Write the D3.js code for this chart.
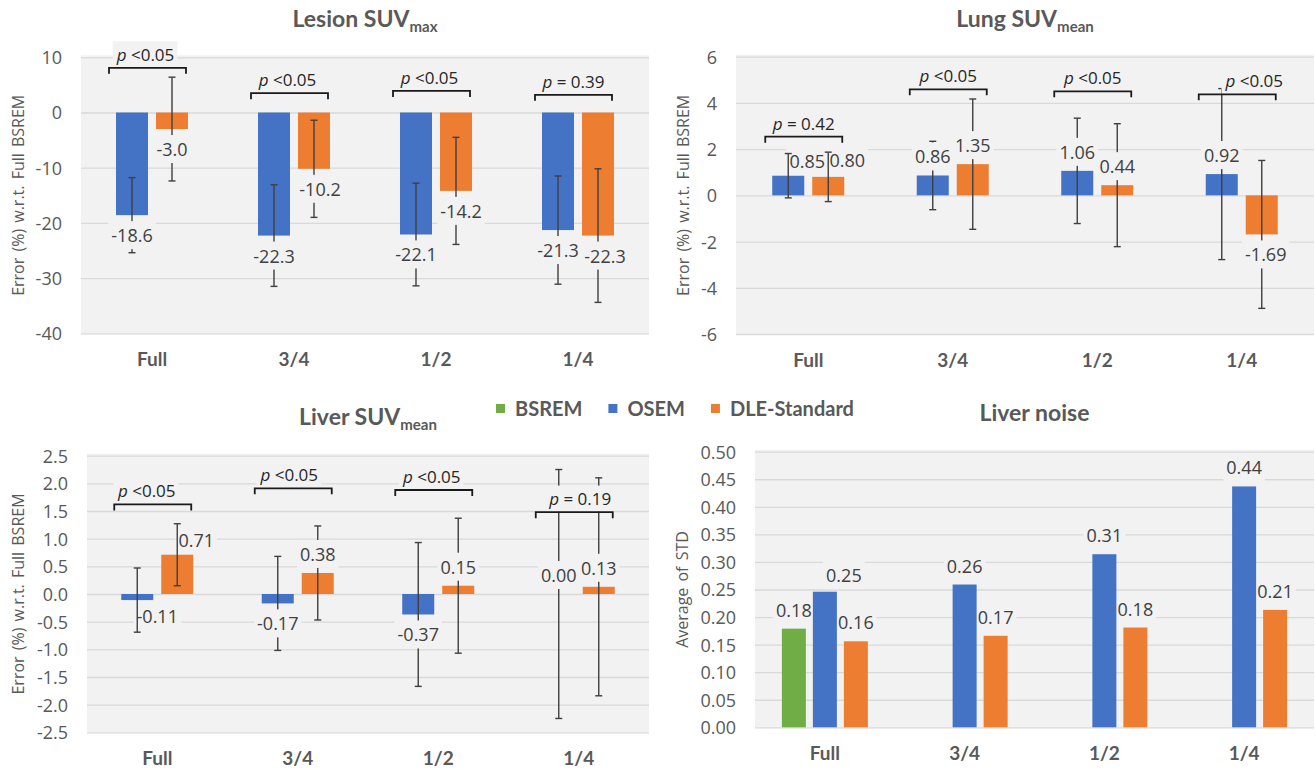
<!DOCTYPE html>
<html>
<head>
<meta charset="utf-8">
<script src="https://cdn.jsdelivr.net/npm/d3@7"></script>
<style>
  body { margin: 0; background: #fff; }
  svg { display: block; }
</style>
</head>
<body>
<svg id="chart" width="1316" height="770"></svg>
<script>
// categories + series
const categories = ["Full", "3/4", "1/2", "1/4"];
const seriesNames = ["BSREM", "OSEM", "DLE-Standard"];
const seriesColors = ["#70AD47", "#4472C4", "#ED7D31"];

// Lesion SUVmax
const lesionOsem = [-18.6, -22.3, -22.1, -21.3];
const lesionOsemErr = [6.8, 9.2, 9.3, 9.8];
const lesionDle = [-3.0, -10.2, -14.2, -22.3];
const lesionDleErr = [9.4, 8.8, 9.7, 12.1];
const lesionTicks = [-40, -30, -20, -10, 0, 10];
const lesionP = ["<0.05", "<0.05", "<0.05", "= 0.39"];
const lesionPLevel = [8.1, 3.5, 3.9, 3.2];

// Lung SUVmean
const lungOsem = [0.85, 0.86, 1.06, 0.92];
const lungOsemErr = [0.96, 1.48, 2.28, 3.7];
const lungDle = [0.80, 1.35, 0.44, -1.69];
const lungDleErr = [1.07, 2.82, 2.66, 3.2];
const lungTicks = [-6, -4, -2, 0, 2, 4, 6];
const lungP = ["= 0.42", "<0.05", "<0.05", "<0.05"];
const lungPLevel = [2.54, 4.59, 4.5, 4.37];

// Liver SUVmean
const liverOsem = [-0.11, -0.17, -0.37, 0.00];
const liverOsemErr = [0.58, 0.85, 1.3, 2.25];
const liverDle = [0.71, 0.38, 0.15, 0.13];
const liverDleErr = [0.56, 0.85, 1.22, 1.97];
const liverTicks = [-2.5, -2.0, -1.5, -1.0, -0.5, 0.0, 0.5, 1.0, 1.5, 2.0, 2.5];
const liverP = ["<0.05", "<0.05", "<0.05", "= 0.19"];
const liverPLevel = [1.62, 1.91, 1.88, 1.48];

// Liver noise (average of STD)
const noiseBsrem = [0.179, null, null, null];
const noiseOsem = [0.246, 0.259, 0.314, 0.437];
const noiseDle = [0.156, 0.166, 0.181, 0.213];
const noiseTicks = [0, 0.05, 0.10, 0.15, 0.20, 0.25, 0.30, 0.35, 0.40, 0.45, 0.50];

const FONT = "'Open Sans', sans-serif";
const TFONT = "Lato, sans-serif";
const svg = d3.select("#chart");

// label nudges: [series, category index, dx, dy, error bar drawn over label]
const panels = [
  {
    title: "Lesion SUV", sub: "max", titleY: 27,
    left: 81, right: 649, top: 57.3, bottom: 333.3,
    yTitle: "Error (%) w.r.t. Full BSREM", yTitleX: 18,
    ticks: lesionTicks, tickDigits: 0, labelDigits: 1,
    series: [
      { name: "OSEM", values: lesionOsem, err: lesionOsemErr },
      { name: "DLE-Standard", values: lesionDle, err: lesionDleErr }
    ],
    pText: lesionP, pLevel: lesionPLevel, pShift: [-2, -2, -2, 0],
    nudges: [["DLE-Standard", 1, 6, 0], ["DLE-Standard", 2, 5, 0], ["DLE-Standard", 3, 7, 0]]
  },
  {
    title: "Lung SUV", sub: "mean", titleY: 27,
    left: 736, right: 1314, top: 56.7, bottom: 334,
    yTitle: "Error (%) w.r.t. Full BSREM", yTitleX: 683,
    ticks: lungTicks, tickDigits: 0, labelDigits: 2,
    series: [
      { name: "OSEM", values: lungOsem, err: lungOsemErr },
      { name: "DLE-Standard", values: lungDle, err: lungDleErr }
    ],
    pText: lungP, pLevel: lungPLevel, pShift: [0, 0, 0, 17],
    nudges: [["OSEM", 0, 19, 4.5, true], ["DLE-Standard", 0, 19, 2, true], ["DLE-Standard", 3, 4, 0]]
  },
  {
    title: "Liver SUV", sub: "mean", titleY: 425,
    left: 87, right: 649, top: 455.7, bottom: 732.3,
    yTitle: "Error (%) w.r.t. Full BSREM", yTitleX: 18,
    ticks: liverTicks, tickDigits: 1, labelDigits: 2,
    series: [
      { name: "OSEM", values: liverOsem, err: liverOsemErr },
      { name: "DLE-Standard", values: liverDle, err: liverDleErr }
    ],
    pText: liverP, pLevel: liverPLevel, pShift: [-6, -4, -2, 6],
    nudges: [["OSEM", 0, 20, -4, true], ["DLE-Standard", 0, 19, 4, true]]
  },
  {
    title: "Liver noise", sub: "", titleY: 421,
    left: 755, right: 1314, top: 451.7, bottom: 727.3,
    yTitle: "Average of STD", yTitleX: 682,
    ticks: noiseTicks, tickDigits: 2, labelDigits: 2,
    series: [
      { name: "BSREM", values: noiseBsrem, err: null },
      { name: "OSEM", values: noiseOsem, err: null },
      { name: "DLE-Standard", values: noiseDle, err: null }
    ],
    pText: null,
    nudges: [["OSEM", 0, 19, 2.5]]
  }
];

// text with a filled box behind it (hides grid lines / error bars like Excel labels)
function boxed(parent, padX, boxH) {
  const g = parent.append("g");
  const rect = g.append("rect").attr("fill", "#f2f2f2");
  const text = g.append("text");
  return { g, rect, text, fit: function () {
    const b = text.node().getBBox();
    const cy = b.y + b.height / 2;
    rect.attr("x", b.x - padX).attr("width", b.width + 2 * padX)
      .attr("y", cy - boxH / 2).attr("height", boxH);
  } };
}

function drawPanel(cfg) {
  const g = svg.append("g");
  const x = d3.scaleBand().domain(categories).range([cfg.left, cfg.right]);
  const y = d3.scaleLinear()
    .domain([cfg.ticks[0], cfg.ticks[cfg.ticks.length - 1]])
    .range([cfg.bottom, cfg.top]);
  const n = cfg.series.length;
  const half = n === 2 ? 44 : 50;
  const sub = d3.scaleBand().domain(cfg.series.map(s => s.name))
    .range([-half, half]).padding(n === 2 ? 0.2 : 0.226);
  const cx = c => x(c) + x.bandwidth() / 2;
  const barX = (name, c) => cx(c) + sub(name) + sub.bandwidth() / 2;
  const hasErr = cfg.series.some(s => s.err);

  // plot background
  g.append("rect")
    .attr("x", cfg.left).attr("y", cfg.top - 2)
    .attr("width", cfg.right - cfg.left).attr("height", cfg.bottom - cfg.top + 2)
    .attr("fill", "#f2f2f2");

  // grid lines
  g.append("g")
    .attr("transform", `translate(${cfg.left},0)`)
    .call(d3.axisLeft(y).tickValues(cfg.ticks).tickSize(-(cfg.right - cfg.left)).tickFormat(""))
    .call(a => a.select(".domain").remove())
    .selectAll("line").attr("stroke", "#d9d9d9").attr("stroke-width", 1.3);

  // layers
  const barsLow = g.append("g");
  const labelsUnder = g.append("g");
  const barsHigh = g.append("g");
  const errLayer = g.append("g").attr("stroke", "#3f3f3f").attr("stroke-width", 1.4);
  const labelsOver = g.append("g");
  const pLayer = g.append("g");

  // y tick labels
  g.append("g")
    .attr("transform", `translate(${cfg.left},0)`)
    .call(d3.axisLeft(y).tickValues(cfg.ticks).tickSize(0).tickPadding(19)
      .tickFormat(d => d.toFixed(cfg.tickDigits)))
    .call(a => a.select(".domain").remove())
    .attr("font-family", FONT).attr("font-size", 18)
    .selectAll("text").attr("fill", "#595959").attr("dy", "0.36em");

  // category labels
  g.append("g")
    .attr("transform", `translate(0,${cfg.bottom})`)
    .call(d3.axisBottom(x).tickSize(0))
    .call(a => a.select(".domain").remove())
    .attr("font-family", TFONT).attr("font-size", 19).attr("font-weight", "bold")
    .selectAll("text").attr("fill", "#595959").attr("y", 33).attr("dy", 0);

  // title
  const t = g.append("text")
    .attr("x", (cfg.left + cfg.right) / 2).attr("y", cfg.titleY)
    .attr("text-anchor", "middle")
    .attr("font-family", TFONT).attr("font-weight", "bold").attr("font-size", 23)
    .attr("fill", "#595959");
  t.append("tspan").text(cfg.title);
  if (cfg.sub) t.append("tspan").attr("font-size", 15).attr("dy", 4.5).text(cfg.sub);

  // y axis title
  g.append("text")
    .attr("transform", `translate(${cfg.yTitleX},${(cfg.top + cfg.bottom) / 2}) rotate(-90)`)
    .attr("text-anchor", "middle").attr("dy", "0.36em")
    .attr("font-family", FONT).attr("font-size", 16).attr("word-spacing", 2)
    .attr("fill", "#595959")
    .text(cfg.yTitle);

  // bars
  const barLayer = hasErr ? barsLow : barsHigh;
  cfg.series.forEach(s => {
    const color = seriesColors[seriesNames.indexOf(s.name)];
    const rows = categories.map((c, i) => ({ c, v: s.values[i] })).filter(d => d.v !== null);
    barLayer.append("g").selectAll("rect").data(rows).join("rect")
      .attr("x", d => x(d.c) + x.bandwidth() / 2 + sub(s.name))
      .attr("width", sub.bandwidth())
      .attr("y", d => y(Math.max(0, d.v)))
      .attr("height", d => Math.abs(y(d.v) - y(0)))
      .attr("fill", color);
  });

  // error bars
  cfg.series.filter(s => s.err).forEach(s => {
    categories.forEach((c, i) => {
      const bx = barX(s.name, c);
      const lo = y(s.values[i] - s.err[i]), hi = y(s.values[i] + s.err[i]);
      errLayer.append("line").attr("x1", bx).attr("x2", bx).attr("y1", lo).attr("y2", hi);
      errLayer.append("line").attr("x1", bx - 3.5).attr("x2", bx + 3.5).attr("y1", lo).attr("y2", lo);
      errLayer.append("line").attr("x1", bx - 3.5).attr("x2", bx + 3.5).attr("y1", hi).attr("y2", hi);
    });
  });

  // value labels
  cfg.series.forEach(s => {
    categories.forEach((c, i) => {
      const v = s.values[i];
      if (v === null) return;
      const nd = cfg.nudges.find(k => k[0] === s.name && k[1] === i) || [0, 0, 0, 0];
      const ty = (v >= 0 ? y(v) - 18.5 : y(v) + 20.5) + nd[3];
      const layer = (!hasErr || nd[4]) ? labelsUnder : labelsOver;
      const lb = boxed(layer, 3, 28);
      lb.text.attr("x", barX(s.name, c) + nd[2]).attr("y", ty).attr("dy", "0.36em")
        .attr("text-anchor", "middle")
        .attr("font-family", FONT).attr("font-size", 18).attr("fill", "#404040")
        .text(v.toFixed(cfg.labelDigits));
      lb.fit();
    });
  });

  // p-value brackets
  if (cfg.pText) {
    categories.forEach((c, i) => {
      const by = y(cfg.pLevel[i]);
      const l = cx(c) - 43, r = cx(c) + 34;
      const lb = boxed(pLayer, 3, 26);
      lb.text.attr("x", (l + r) / 2 + cfg.pShift[i]).attr("y", by - 7)
        .attr("text-anchor", "middle")
        .attr("font-family", FONT).attr("font-size", 17).attr("fill", "#262626");
      lb.text.append("tspan").attr("font-style", "italic").text("p");
      lb.text.append("tspan").text(" " + cfg.pText[i]);
      lb.fit();
      pLayer.append("path")
        .attr("d", `M${l},${by + 6}V${by}H${r}V${by + 6}`)
        .attr("fill", "none").attr("stroke", "#1a1a1a").attr("stroke-width", 1.8);
    });
  }
}

panels.forEach(drawPanel);

// legend
const legend = svg.append("g").attr("font-family", TFONT).attr("font-weight", "bold")
  .attr("font-size", 20).attr("fill", "#595959");
let lx = 496;
seriesNames.forEach((name, i) => {
  legend.append("rect").attr("x", lx).attr("y", 404).attr("width", 9).attr("height", 9)
    .attr("fill", seriesColors[i]);
  const tx = legend.append("text").attr("x", lx + 19).attr("y", 415.5).text(name);
  lx += 19 + tx.node().getComputedTextLength() + 26;
});
</script>
</body>
</html>
